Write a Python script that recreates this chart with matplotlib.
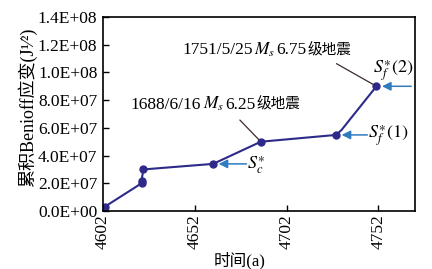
import matplotlib
matplotlib.use('Agg')
import matplotlib.pyplot as plt
from matplotlib.ticker import FuncFormatter
from matplotlib.offsetbox import TextArea, HPacker, AnnotationBbox

# cumulative Benioff strain
years = [4603, 4623, 4623, 4624, 4662, 4688, 4729, 4732, 4736.5, 4751]
strain = [0.31e7, 2.0e7, 2.2e7, 3.0e7, 3.4e7, 5.0e7, 5.49e7, 5.85e7, 6.6e7, 9.0e7]
marked = [0, 1, 2, 3, 4, 5, 6, 9]

xticks = [4602, 4652, 4702, 4752]
yticks = [0, 2e7, 4e7, 6e7, 8e7, 1.0e8, 1.2e8, 1.4e8]

# which point each label belongs to
i_sc, i_sf1, i_sf2 = 4, 6, 9
i_1688, i_1751 = 5, 9
quake_1688 = ('1688/6/16', '6.25', '级地震')
quake_1751 = ('1751/5/25', '6.75', '级地震')

plt.rcParams['font.family'] = ['Liberation Serif', 'Noto Sans CJK SC']
plt.rcParams['mathtext.fontset'] = 'stix'

LINE = '#2d2a8a'
ARROW = '#2f7bc0'
LEAD = '#3b2b2b'

fig = plt.figure(figsize=(4.32, 2.69), dpi=100)
ax = fig.add_axes([103/432, 1 - 211/269, 312/432, 194/269])

ax.plot(years, strain, '-', color=LINE, lw=1.5, marker='o', ms=5,
        markevery=marked, mfc=LINE, mec=LINE)

ax.set_xlim(4602, 4772)
ax.set_ylim(0, 1.4e8)
ax.set_xticks(xticks)
ax.set_yticks(yticks)
ax.yaxis.set_major_formatter(FuncFormatter(lambda v, p: f'{v:.1E}'))
ax.tick_params(direction='in', length=4, width=1, labelsize=12.5)
ax.tick_params(axis='y', pad=4)
ax.tick_params(axis='x', pad=2, labelrotation=90)
for s in ax.spines.values():
    s.set_linewidth(1.2)


def arrow_to(i, dx):
    ax.annotate('', xy=(years[i], strain[i]), xytext=(dx, 0),
                textcoords='offset points',
                arrowprops=dict(arrowstyle='-|>', color=ARROW, lw=1.1,
                                mutation_scale=13, shrinkA=0, shrinkB=4))


arrow_to(i_sc, 24)
arrow_to(i_sf1, 22.5)
arrow_to(i_sf2, 25)

ax.annotate(r'$S_c^{\ast}$', xy=(years[i_sc], strain[i_sc]), xytext=(24.5, -0.7),
            textcoords='offset points', va='center', ha='left', fontsize=13)
ax.annotate(r'$S_f^{\ast}\mathrm{(1)}$', xy=(years[i_sf1], strain[i_sf1]),
            xytext=(23, -0.7), textcoords='offset points', va='center',
            ha='left', fontsize=13)
ax.annotate(r'$S_f^{\ast}\mathrm{(2)}$', xy=(years[i_sf2], strain[i_sf2]),
            xytext=(-2.6, 11.5), textcoords='offset points', va='center',
            ha='left', fontsize=13)


def quake_label(i, parts, lead_off, box_off):
    date, mag, word = parts
    pt = (years[i], strain[i])
    ax.annotate('', xy=pt, xytext=lead_off, textcoords='offset points',
                arrowprops=dict(arrowstyle='-', color=LEAD, lw=0.9,
                                shrinkA=0, shrinkB=2))
    tp = dict(fontsize=12.5, family='Liberation Serif')
    box = HPacker(children=[TextArea(date, textprops=tp),
                            TextArea(r'$M_s$', textprops=tp),
                            TextArea(mag, textprops=tp),
                            TextArea(word, textprops=dict(fontsize=10.5,
                                                          family='Noto Sans CJK SC'))],
                  align='baseline', pad=0, sep=1)
    ab = AnnotationBbox(box, pt, xybox=box_off, boxcoords='offset points',
                        box_alignment=(0, 0.5), frameon=False, pad=0)
    ax.add_artist(ab)


quake_label(i_1751, quake_1751, (-28.8, 16.3), (-140, 26.6))
quake_label(i_1688, quake_1688, (-15.1, 15.6), (-93.6, 27.1))

fig.text(27/432, 0.60, '累积Benioff应变(J¹⁄²)', rotation=90, ha='center',
         va='center', fontsize=13)
fig.text(240/432, 1 - 252/269, '时间(a)', ha='center', va='top', fontsize=12)

fig.savefig('out.png', dpi=100)
